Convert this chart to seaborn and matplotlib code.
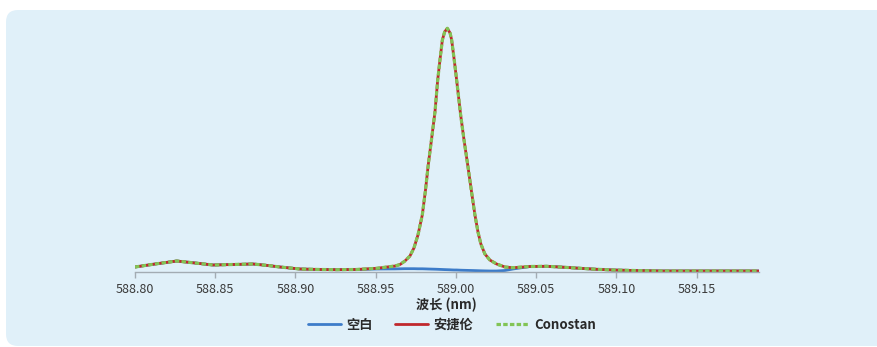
import pandas as pd
import seaborn as sns
import matplotlib.pyplot as plt
from matplotlib.patches import FancyBboxPatch
from matplotlib.transforms import IdentityTransform

# 波长 (nm) 与各样品的信号强度（任意单位，从图上读出）
wavelength = [588.8000, 588.8125, 588.8260, 588.8374, 588.8486, 588.8611, 588.8735,
              588.8829, 588.8903, 588.9028, 588.9153, 588.9257, 588.9377, 588.9506,
              588.9620, 588.9651, 588.9682, 588.9713, 588.9738, 588.9763, 588.9790,
              588.9810, 588.9827, 588.9847, 588.9869, 588.9886, 588.9900, 588.9915,
              588.9929, 588.9946, 588.9963, 588.9973, 588.9989, 589.0004, 589.0029,
              589.0050, 589.0073, 589.0097, 589.0118, 589.0137, 589.0155, 589.0180,
              589.0211, 589.0253, 589.0305, 589.0355, 589.0461, 589.0565, 589.0667,
              589.0773, 589.0878, 589.0978, 589.1134, 589.1290, 589.1520, 589.1707,
              589.1886]

agilent = [5.0, 8.0, 11.0, 9.0, 7.0, 7.5, 8.0,
           6.5, 5.0, 3.0, 2.5, 2.3, 2.5, 3.7,
           6.0, 7.5, 11.0, 16.0, 24.0, 37.0, 57.0,
           82.0, 107.0, 132.0, 160.0, 192.0, 212.0, 232.0,
           240.0, 243.7, 239.0, 232.0, 212.0, 192.0, 157.0,
           132.0, 107.0, 80.0, 57.0, 40.0, 28.0, 18.0,
           12.0, 8.0, 5.0, 4.3, 5.5, 5.7, 4.8,
           3.7, 2.7, 2.0, 1.4, 1.0, 1.0, 1.0,
           1.0]

# Conostan 与安捷伦几乎完全重合
conostan = list(agilent)

blank = [5.0, 8.0, 11.0, 9.0, 7.0, 7.5, 8.0,
         6.5, 5.0, 3.0, 2.5, 2.3, 2.5, 3.0,
         3.1, 3.2, 3.3, 3.3, 3.3, 3.2, 3.2,
         3.1, 3.0, 2.9, 2.8, 2.7, 2.6, 2.5,
         2.4, 2.3, 2.2, 2.1, 2.0, 2.0, 1.8,
         1.7, 1.6, 1.5, 1.4, 1.3, 1.2, 1.1,
         1.0, 1.0, 1.5, 3.0, 5.5, 5.7, 4.8,
         3.7, 2.7, 2.0, 1.4, 1.0, 1.0, 1.0,
         1.0]

xticks = [588.80, 588.85, 588.90, 588.95, 589.00, 589.05, 589.10, 589.15]

df = pd.DataFrame({'wl': wavelength, 'blank': blank, 'agilent': agilent, 'conostan': conostan})

sns.set_theme(style='white')
plt.rcParams['font.family'] = ['Noto Sans CJK SC', 'DejaVu Sans']

W, H = 878, 347
fig = plt.figure(figsize=(W / 100, H / 100), dpi=100)
fig.patch.set_facecolor('white')

# 浅蓝色圆角背景
bg = FancyBboxPatch((6, 1), 920, H - 11, boxstyle='round,pad=0,rounding_size=12',
                    facecolor='#e0f0f9', edgecolor='none', transform=IdentityTransform(), zorder=-1)
fig.add_artist(bg)

ax = fig.add_axes([135 / W, (H - 272) / H, (758.7 - 135) / W, 250 / H])
ax.set_facecolor('none')

sns.lineplot(data=df, x='wl', y='blank', ax=ax, color='#3d7cc9', linewidth=2.0, label='空白')
sns.lineplot(data=df, x='wl', y='agilent', ax=ax, color='#c0282d', linewidth=2.0, label='安捷伦')
sns.lineplot(data=df, x='wl', y='conostan', ax=ax, color='#82c456', linewidth=2.3,
             linestyle=(0, (1.4, 0.7)), label='Conostan')

ax.set_xlim(588.80, 589.1886)
ax.set_ylim(0, 250)
ax.set_xticks(xticks)
ax.set_xticklabels([f'{t:.2f}' for t in xticks])
ax.set_yticks([])
ax.set_ylabel('')
ax.set_xlabel('波长 (nm)', fontsize=9.5, fontweight='bold', color='#2a2a2a', labelpad=1)

for s in ['left', 'top', 'right']:
    ax.spines[s].set_visible(False)
ax.spines['bottom'].set_color('#a3acb3')
ax.spines['bottom'].set_linewidth(1.0)
ax.tick_params(axis='x', bottom=True, length=4, width=1, color='#a3acb3',
               labelsize=9, labelcolor='#3a3a3a', pad=4)

ax.get_legend().remove()
handles, labels = ax.get_legend_handles_labels()
fig.legend(handles, labels, loc='center', bbox_to_anchor=(452 / W, 1 - 325 / H), ncol=3,
           frameon=False, handlelength=2.5, handletextpad=0.4, columnspacing=1.7,
           prop={'size': 9.5, 'weight': 'bold'}, labelcolor='#2a2a2a')

fig.savefig('out.png', dpi=100, facecolor='white')
